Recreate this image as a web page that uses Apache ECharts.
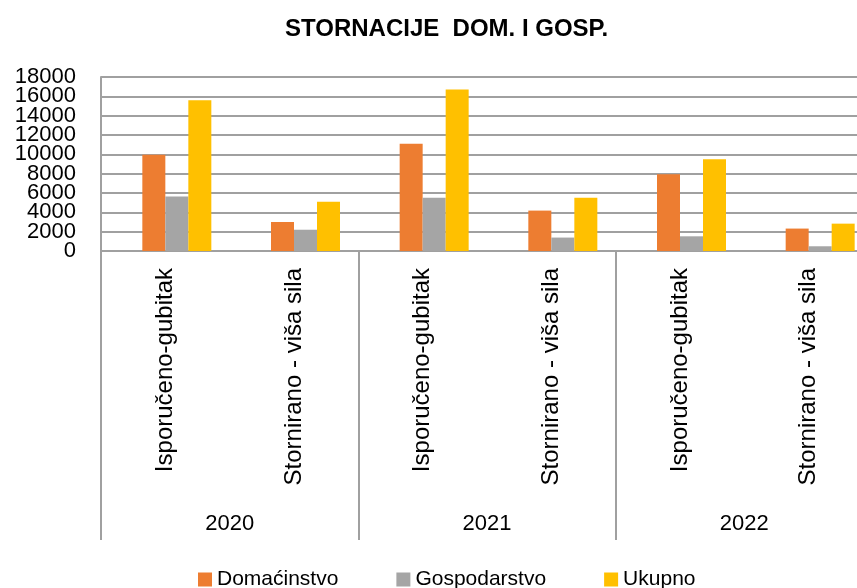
<!DOCTYPE html>
<html>
	<head>
		<meta charset="utf-8">
		<title>Stornacije dom. i gosp.</title>
		<style>
			html, body {
				margin: 0;
				padding: 0;
				background: #fff;
			}
			#chart {
				width: 857px;
				height: 588px;
			}
		</style>
	</head>
	<body>
		<div id="chart"></div>
		<script src="https://cdn.jsdelivr.net/npm/echarts@6/dist/echarts.min.js"></script>
		<script>
			// podaci
			var kategorije = ['Isporučeno-gubitak', 'Stornirano - viša sila', 'Isporučeno-gubitak', 'Stornirano - viša sila', 'Isporučeno-gubitak', 'Stornirano - viša sila'];
			var godine = ['2020', '2021', '2022'];
			var domacinstvo = [9950, 3000, 11100, 4180, 7950, 2320];
			var gospodarstvo = [5650, 2200, 5500, 1390, 1520, 490];
			var ukupno = [15600, 5100, 16700, 5520, 9480, 2830];
			var prazno = ['-', '-', '-', '-', '-', '-'];
			var yMin = 0;
			var yMax = 18000;
			var yKorak = 2000;

			var font = 'Liberation Sans';
			var siva = '#a0a0a0';
			var oznakaStil = {
				margin: 25,
				fontFamily: font,
				fontSize: 22,
				color: '#000'
			};

			var option = {
				animation: false,
				title: {
					text: 'STORNACIJE  DOM. I GOSP.',
					left: 280,
					top: 12,
					textStyle: {
						fontFamily: font,
						fontSize: 24,
						fontWeight: 'bold',
						color: '#000'
					}
				},
				legend: {
					data: ['Domaćinstvo', 'Gospodarstvo', 'Ukupno'],
					left: 193,
					top: 564,
					itemWidth: 14,
					itemHeight: 14,
					itemGap: 58,
					icon: 'rect',
					textStyle: {
						fontFamily: font,
						fontSize: 21,
						color: '#000'
					}
				},
				// sirina veca od platna, desni rub je odrezan kao na slici
				grid: {
					left: 101,
					width: 772,
					top: 77,
					height: 174,
					outerBoundsMode: 'none',
					containLabel: false
				},
				xAxis: [{
					type: 'category',
					data: kategorije,
					axisTick: { show: false },
					axisLine: { lineStyle: { color: siva, width: 2 } },
					axisLabel: {
						rotate: 90,
						margin: 17,
						interval: 0,
						fontFamily: font,
						fontSize: 24,
						color: '#000'
					}
				}, {
					type: 'category',
					data: godine,
					position: 'bottom',
					axisLine: { show: false },
					axisTick: {
						show: true,
						interval: 0,
						length: 289,
						lineStyle: { color: siva, width: 2 }
					},
					axisLabel: {
						margin: 262,
						interval: 0,
						fontFamily: font,
						fontSize: 22,
						color: '#000'
					}
				}],
				yAxis: [{
					type: 'value',
					min: yMin,
					max: yMax,
					interval: yKorak,
					axisLine: { show: true, lineStyle: { color: siva, width: 2 } },
					axisTick: { show: false },
					splitLine: { lineStyle: { color: siva, width: 2 } },
					axisLabel: Object.assign({
						showMinLabel: false,
						showMaxLabel: false,
						formatter: function(v) {
							return String(v);
						}
					}, oznakaStil)
				}, {
					// samo 0 i 18000, inace ih ECharts skriva zbog preklapanja
					type: 'value',
					position: 'left',
					min: yMin,
					max: yMax,
					interval: yKorak,
					axisLine: { show: false },
					axisTick: { show: false },
					splitLine: { show: false },
					axisLabel: Object.assign({
						showMinLabel: true,
						showMaxLabel: true,
						formatter: function(v) {
							return (v === yMin || v === yMax) ? String(v) : '';
						}
					}, oznakaStil)
				}],
				series: [{
					name: 'prazno',
					type: 'bar',
					data: prazno,
					barWidth: 23,
					barGap: '0%'
				}, {
					name: 'Domaćinstvo',
					type: 'bar',
					data: domacinstvo,
					barWidth: 23,
					barGap: '0%',
					itemStyle: { color: '#ED7D31' }
				}, {
					name: 'Gospodarstvo',
					type: 'bar',
					data: gospodarstvo,
					barWidth: 23,
					barGap: '0%',
					itemStyle: { color: '#A5A5A5' }
				}, {
					name: 'Ukupno',
					type: 'bar',
					data: ukupno,
					barWidth: 23,
					barGap: '0%',
					itemStyle: { color: '#FFC000' }
				}]
			};

			var chart = echarts.init(document.getElementById('chart'));
			chart.setOption(option);
		</script>
	</body>
</html>
